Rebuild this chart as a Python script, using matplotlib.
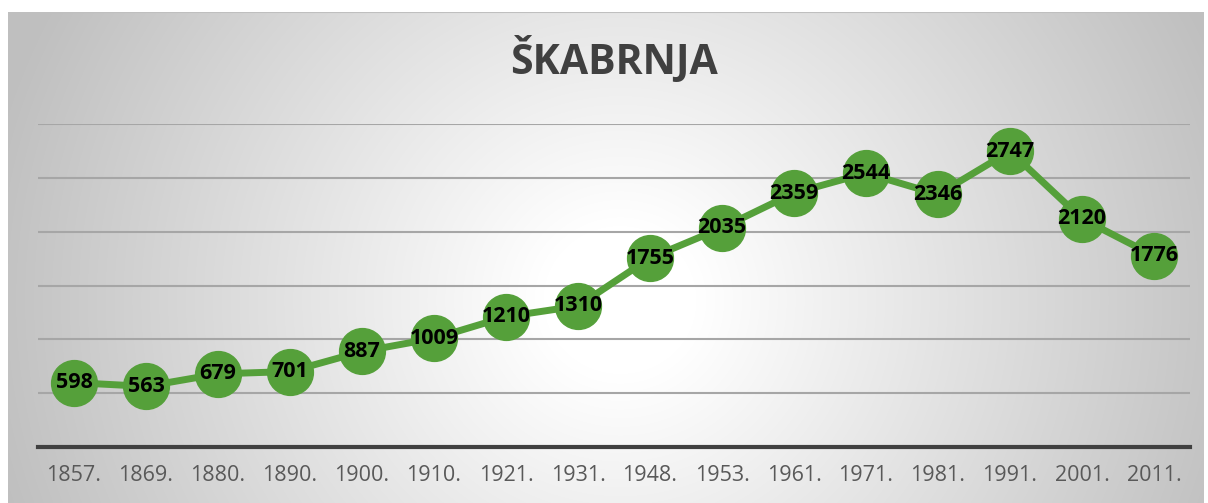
import numpy as np
import matplotlib.pyplot as plt

# podaci
godine = ['1857.', '1869.', '1880.', '1890.', '1900.', '1910.', '1921.', '1931.',
          '1948.', '1953.', '1961.', '1971.', '1981.', '1991.', '2001.', '2011.']
stanovnici = [598, 563, 679, 701, 887, 1009, 1210, 1310,
              1755, 2035, 2359, 2544, 2346, 2747, 2120, 1776]

plt.rcParams['font.family'] = ['Open Sans', 'DejaVu Sans']

W, H = 1208, 503
fig = plt.figure(figsize=(W / 100, H / 100), dpi=100)
fig.patch.set_facecolor('white')

# pozadina s radijalnim gradijentom
bx0, bx1, by0, by1 = 8, 1204, 12, 503
bg = fig.add_axes([bx0 / W, 0, (bx1 - bx0) / W, (by1 - by0) / H])
xx, yy = np.meshgrid(np.arange(bx0, bx1), np.arange(by0, by1))
d = np.sqrt(((xx - 620) / 640.0) ** 2 + ((yy - 300) / 620.0) ** 2)
t = np.clip((d - 0.12) / 0.88, 0, 1)
val = (255 - 63 * t) / 255.0
bg.imshow(np.dstack([val, val, val]), aspect='auto', extent=(0, 1, 0, 1))
bg.axhline(1, color='#bfbfbf', lw=1.5)
bg.set_axis_off()

# graf
ax = fig.add_axes([38 / W, (H - 447) / H, (1190 - 38) / W, (447 - 124) / H])
ax.patch.set_alpha(0)
x = np.arange(len(godine))
ax.set_xlim(-0.5, len(godine) - 0.5)
ax.set_ylim(0, 3000)
ax.set_yticks(np.arange(500, 3001, 500))
ax.yaxis.grid(True, color='#a6a6a6', lw=1.5)
ax.tick_params(axis='y', left=False, labelleft=False)
ax.tick_params(axis='x', length=0, pad=13, labelsize=15.5, labelcolor='#595959')
ax.set_xticks(x)
ax.set_xticklabels(godine)
for s in ['top', 'right', 'left']:
    ax.spines[s].set_visible(False)
ax.spines['bottom'].set_color('#404040')
ax.spines['bottom'].set_linewidth(3)
ax.set_axisbelow(True)

ax.plot(x, stanovnici, color='#55a03a', lw=5, marker='o', markersize=33,
        markerfacecolor='#55a03a', markeredgecolor='#55a03a', zorder=3)
for xi, v in zip(x, stanovnici):
    ax.text(xi, v, str(v), ha='center', va='center', fontsize=15.5,
            fontweight='bold', color='black', zorder=4)

fig.text(614 / W, 1 - 61 / H, 'ŠKABRNJA', ha='center', va='center',
         fontsize=29.5, fontweight='bold', color='#404040')

fig.savefig('out.png', dpi=100)
